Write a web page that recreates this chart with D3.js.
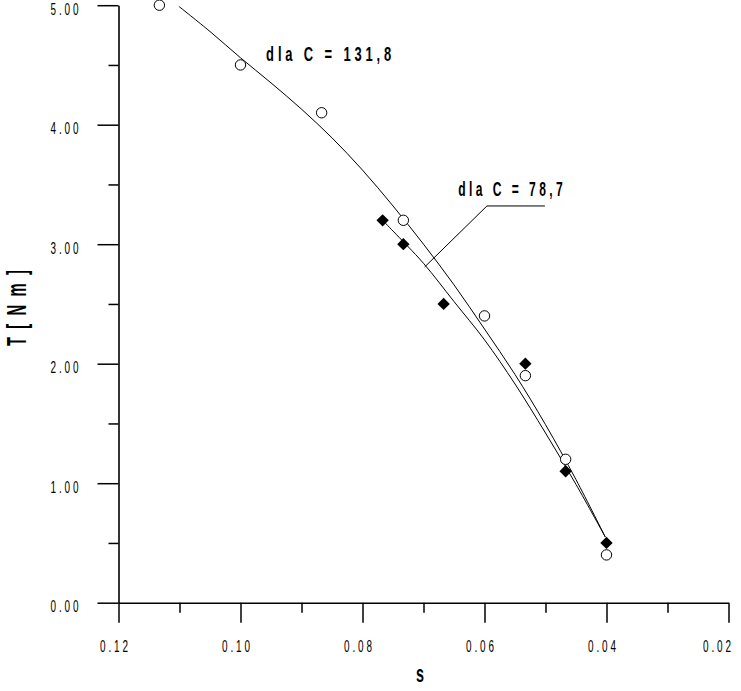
<!DOCTYPE html>
<html>
<head>
<meta charset="utf-8">
<script src="https://cdn.jsdelivr.net/npm/d3@7"></script>
<style>
  html, body { margin: 0; padding: 0; background: #fff; }
  svg { display: block; }
</style>
</head>
<body>
<svg id="chart" width="741" height="691"></svg>
<script>
// ---- data ----
const xTicksMajor = [0.12, 0.10, 0.08, 0.06, 0.04, 0.02];
const xTickLabels = ["0.12", "0.10", "0.08", "0.06", "0.04", "0.02"];
const xTicksMinor = [0.11, 0.09, 0.07, 0.05, 0.03];
const yTicksMajor = [0, 1, 2, 3, 4, 5];
const yTickLabels = ["0.00", "1.00", "2.00", "3.00", "4.00", "5.00"];
const yTicksMinor = [0.5, 1.5, 2.5, 3.5, 4.5];

// measured points, C = 131.8 (open circles)
const circleS = [0.1133, 0.1000, 0.0867, 0.0733, 0.0600, 0.0533, 0.0467, 0.0400];
const circleT = [5.00, 4.50, 4.10, 3.20, 2.40, 1.90, 1.20, 0.40];
// measured points, C = 78.7 (filled diamonds)
const diamondS = [0.0767, 0.0733, 0.0667, 0.0533, 0.0467, 0.0400];
const diamondT = [3.20, 3.00, 2.50, 2.00, 1.10, 0.50];

// fitted curve, C = 131.8
const fitUpperS = [0.1101, 0.105, 0.100, 0.095, 0.090, 0.085, 0.080, 0.075, 0.070, 0.065, 0.060, 0.055, 0.050, 0.045, 0.0402];
const fitUpperT = [4.99, 4.78, 4.56, 4.35, 4.13, 3.89, 3.62, 3.32, 3.00, 2.66, 2.29, 1.91, 1.49, 1.03, 0.55];
// fitted curve, C = 78.7
const fitLowerS = [0.0767, 0.075, 0.070, 0.065, 0.060, 0.055, 0.050, 0.045, 0.0402];
const fitLowerT = [3.20, 3.11, 2.84, 2.52, 2.20, 1.83, 1.42, 0.99, 0.55];

// annotations
const labelUpper = "dla C = 131,8";
const labelLower = "dla C = 78,7";
const labelUpperPos = [0.0958, 4.53];
const labelLowerPos = [0.0643, 3.40];
const leaderS = [0.0501, 0.0596, 0.0698];
const leaderT = [3.32, 3.32, 2.81];

const xTitle = "s";
const yTitle = "T [ N m ]";

// ---- drawing ----
const W = 741;
const svg = d3.select("#chart");
svg.append("rect").attr("width", W).attr("height", 691).attr("fill", "#fff");

const x = d3.scaleLinear().domain([0.12, 0.02]).range([118.5, 728.5]);
const y = d3.scaleLinear().domain([0, 5]).range([602.7, 5.2]);

const tickFont = "'Liberation Sans', Arial, sans-serif";

// axes: minor ticks
svg.append("g").attr("transform", "translate(0,602.7)")
  .call(d3.axisBottom(x).tickValues(xTicksMinor).tickSize(10).tickSizeOuter(0).tickFormat(""))
  .call(g => g.select(".domain").remove())
  .call(g => g.selectAll("line").attr("stroke", "#000").attr("stroke-width", 1.5));
svg.append("g").attr("transform", "translate(118.5,0)")
  .call(d3.axisLeft(y).tickValues(yTicksMinor).tickSize(10).tickSizeOuter(0).tickFormat(""))
  .call(g => g.select(".domain").remove())
  .call(g => g.selectAll("line").attr("stroke", "#000").attr("stroke-width", 1.5));

// axes: major ticks
svg.append("g").attr("transform", "translate(0,602.7)")
  .call(d3.axisBottom(x).tickValues(xTicksMajor).tickSize(20).tickSizeOuter(0).tickFormat(""))
  .call(g => g.select(".domain").attr("stroke", "#000").attr("stroke-width", 1.6))
  .call(g => g.selectAll("line").attr("stroke", "#000").attr("stroke-width", 1.5));
svg.append("g").attr("transform", "translate(118.5,0)")
  .call(d3.axisLeft(y).tickValues(yTicksMajor).tickSize(21).tickSizeOuter(0).tickFormat(""))
  .call(g => g.select(".domain").attr("stroke", "#000").attr("stroke-width", 1.6))
  .call(g => g.selectAll("line").attr("stroke", "#000").attr("stroke-width", 1.5));

// tick labels
const xLabW = 31;
const edgeLimit = W - 7;
svg.append("g").selectAll("text").data(xTicksMajor).join("text")
  .attr("x", d => (x(d) - 3 + xLabW / 2 > edgeLimit) ? edgeLimit : x(d) - 3)
  .attr("text-anchor", d => (x(d) - 3 + xLabW / 2 > edgeLimit) ? "end" : "middle")
  .attr("y", 652)
  .attr("font-family", tickFont).attr("font-size", 17)
  .attr("letter-spacing", 5)
  .attr("textLength", xLabW).attr("lengthAdjust", "spacingAndGlyphs")
  .attr("fill", "#000")
  .text((d, i) => xTickLabels[i]);

svg.append("g").selectAll("text").data(yTicksMajor).join("text")
  .attr("x", 66)
  .attr("y", d => y(d) + 9.5)
  .attr("text-anchor", "middle")
  .attr("font-family", tickFont).attr("font-size", 17)
  .attr("letter-spacing", 5)
  .attr("textLength", 31).attr("lengthAdjust", "spacingAndGlyphs")
  .attr("fill", "#000")
  .text((d, i) => yTickLabels[i]);

// axis titles
svg.append("text")
  .attr("x", 420).attr("y", 682)
  .attr("text-anchor", "middle")
  .attr("font-family", tickFont).attr("font-size", 24).attr("font-weight", "bold")
  .attr("textLength", 8).attr("lengthAdjust", "spacingAndGlyphs")
  .text(xTitle);

svg.append("text")
  .attr("transform", "translate(26,307) rotate(-90)")
  .attr("text-anchor", "middle")
  .attr("font-family", tickFont).attr("font-size", 28).attr("font-weight", "bold")
  .attr("letter-spacing", 4)
  .attr("textLength", 78).attr("lengthAdjust", "spacingAndGlyphs")
  .text(yTitle);

// fitted curves
const line = d3.line().x(d => x(d[0])).y(d => y(d[1])).curve(d3.curveCatmullRom);
svg.append("path")
  .attr("d", line(fitUpperS.map((s, i) => [s, fitUpperT[i]])))
  .attr("fill", "none").attr("stroke", "#000").attr("stroke-width", 1);
svg.append("path")
  .attr("d", line(fitLowerS.map((s, i) => [s, fitLowerT[i]])))
  .attr("fill", "none").attr("stroke", "#000").attr("stroke-width", 1);

// leader line
svg.append("path")
  .attr("d", d3.line().x(d => x(d[0])).y(d => y(d[1]))(leaderS.map((s, i) => [s, leaderT[i]])))
  .attr("fill", "none").attr("stroke", "#000").attr("stroke-width", 1);

// markers
svg.append("g").selectAll("circle").data(circleS).join("circle")
  .attr("cx", d => x(d))
  .attr("cy", (d, i) => y(circleT[i]))
  .attr("r", 5.2)
  .attr("fill", "#fff").attr("stroke", "#000").attr("stroke-width", 1);

const diamond = d3.symbol().type(d3.symbolSquare).size(76);
svg.append("g").selectAll("path").data(diamondS).join("path")
  .attr("d", diamond())
  .attr("transform", (d, i) => `translate(${x(d)},${y(diamondT[i])}) rotate(45)`)
  .attr("fill", "#000");

// annotation labels
svg.append("text")
  .attr("x", x(labelUpperPos[0])).attr("y", y(labelUpperPos[1]))
  .attr("font-family", tickFont).attr("font-size", 20).attr("font-weight", "bold")
  .attr("letter-spacing", 6)
  .attr("textLength", 129).attr("lengthAdjust", "spacingAndGlyphs")
  .text(labelUpper);
svg.append("text")
  .attr("x", x(labelLowerPos[0])).attr("y", y(labelLowerPos[1]))
  .attr("font-family", tickFont).attr("font-size", 21).attr("font-weight", "bold")
  .attr("letter-spacing", 6)
  .attr("textLength", 108).attr("lengthAdjust", "spacingAndGlyphs")
  .text(labelLower);
</script>
</body>
</html>
